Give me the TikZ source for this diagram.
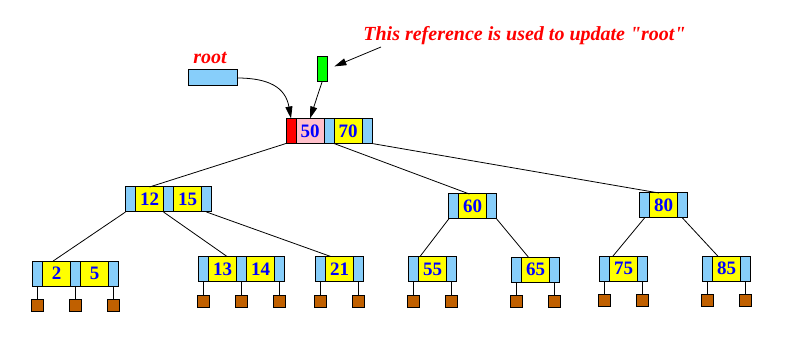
\documentclass[tikz,border=0pt]{standalone}
\usepackage{fontspec}
\setmainfont{Liberation Serif}
\newfontfamily\notefont{Liberation Serif}
\usetikzlibrary{arrows.meta,positioning}
\definecolor{ptrblue}{RGB}{135,206,250}
\definecolor{keyyellow}{RGB}{255,255,0}
\definecolor{leafbrown}{RGB}{192,96,0}
\definecolor{rootpink}{RGB}{255,192,203}
\tikzset{
  ptrcell/.style={draw=black, line width=1pt, fill=ptrblue, minimum width=10pt,
    minimum height=25pt, inner sep=0pt, outer sep=0pt},
  keycell/.style={ptrcell, fill=keyyellow, minimum width=28pt, text=blue,
    font=\fontsize{19}{19}\selectfont\bfseries},
  leafbox/.style={draw=black, line width=1pt, fill=leafbrown, minimum size=12pt,
    inner sep=0pt, outer sep=0pt},
  edge/.style={draw=black, line width=0.8pt},
  leafedge/.style={draw=black, line width=1pt},
  link/.style={-{Triangle[length=12pt,width=7pt]}, line width=0.8pt},
  note/.style={text=red, font=\notefont\fontsize{20}{22}\selectfont\bfseries\itshape, inner sep=0pt}
}

\begin{document}
\begin{tikzpicture}[x=1pt, y=-1pt, node distance=0pt]
  \useasboundingbox (0,0) rectangle (787,339);

  % root node
  \node[ptrcell, fill=red, anchor=west] (rt0) at (286,131) {};
  \node[keycell, fill=rootpink, right=of rt0] (rt1) {50};
  \node[ptrcell, right=of rt1] (rt2) {};
  \node[keycell, right=of rt2] (rt3) {70};
  \node[ptrcell, right=of rt3] (rt4) {};

  % references to the root
  \node[ptrcell, minimum width=49pt, minimum height=16pt] (rootvar) at (212.5,78) {};
  \node[ptrcell, fill=green] (updvar) at (322,69.5) {};
  \node[note, anchor=base] (rootlbl) at (210,64) {root};
  \node[note, anchor=base] (notelbl) at (524.5,41) {This reference is used to update "root"};
  \coordinate (notetail) at (381,47);

  % inner nodes
  \node[ptrcell, anchor=west] (ia0) at (125.5,199.5) {};
  \node[keycell, right=of ia0] (ia1) {12};
  \node[ptrcell, right=of ia1] (ia2) {};
  \node[keycell, right=of ia2] (ia3) {15};
  \node[ptrcell, right=of ia3] (ia4) {};

  \node[ptrcell, anchor=west] (ib0) at (448.7,206.5) {};
  \node[keycell, right=of ib0] (ib1) {60};
  \node[ptrcell, right=of ib1] (ib2) {};

  \node[ptrcell, anchor=west] (ic0) at (639.5,205.5) {};
  \node[keycell, right=of ic0] (ic1) {80};
  \node[ptrcell, right=of ic1] (ic2) {};

  % leaf level
  \node[ptrcell, anchor=west] (la0) at (32.5,273.5) {};
  \node[keycell, right=of la0] (la1) {2};
  \node[ptrcell, right=of la1] (la2) {};
  \node[keycell, right=of la2] (la3) {5};
  \node[ptrcell, right=of la3] (la4) {};

  \node[ptrcell, anchor=west] (lb0) at (198.5,269) {};
  \node[keycell, right=of lb0] (lb1) {13};
  \node[ptrcell, right=of lb1] (lb2) {};
  \node[keycell, right=of lb2] (lb3) {14};
  \node[ptrcell, right=of lb3] (lb4) {};

  \node[ptrcell, anchor=west] (lc0) at (315.5,269) {};
  \node[keycell, right=of lc0] (lc1) {21};
  \node[ptrcell, right=of lc1] (lc2) {};

  \node[ptrcell, anchor=west] (ld0) at (408.5,269) {};
  \node[keycell, right=of ld0] (ld1) {55};
  \node[ptrcell, right=of ld1] (ld2) {};

  \node[ptrcell, anchor=west] (le0) at (511.5,269.5) {};
  \node[keycell, right=of le0] (le1) {65};
  \node[ptrcell, right=of le1] (le2) {};

  \node[ptrcell, anchor=west] (lf0) at (599.5,268.5) {};
  \node[keycell, right=of lf0] (lf1) {75};
  \node[ptrcell, right=of lf1] (lf2) {};

  \node[ptrcell, anchor=west] (lg0) at (702.5,268.5) {};
  \node[keycell, right=of lg0] (lg1) {85};
  \node[ptrcell, right=of lg1] (lg2) {};

  % null pointers under the leaves
  \foreach \p in {la0,la2,la4,lb0,lb2,lb4,lc0,lc2,ld0,ld2,le0,le2,lf0,lf2,lg0,lg2} {
    \node[leafbox, below=13.5pt of \p] (s\p) {};
    \draw[leafedge] (\p.south) -- (s\p.north);
  }

  % tree edges
  \draw[edge] (rt0.south west) -- (ia1.north);
  \draw[edge] (rt2.south east) -- (ib1.105);
  \draw[edge] (rt4.south east) -- (ic1.110);
  \draw[edge] (ia0.south west) -- (la1.105);
  \draw[edge] (ia2.south west) -- (lb1.70);
  \draw[edge] (ia4.south) -- (lc1.125);
  \draw[edge] (ib0.south west) -- (ld1.135);
  \draw[edge] (ib2.south east) -- (le1.120);
  \draw[edge] (ic0.south) -- (lf1.130);
  \draw[edge] (ic2.south) -- (lg1.125);

  % arrows to the root
  \draw[link] (rootvar.east) to[out=0, in=100, looseness=1.2] (rt0.north);
  \draw[link] (updvar.south) -- (rt1.north);
  \draw[link, shorten >=8pt] (notetail) -- (updvar.east);
\end{tikzpicture}
\end{document}
